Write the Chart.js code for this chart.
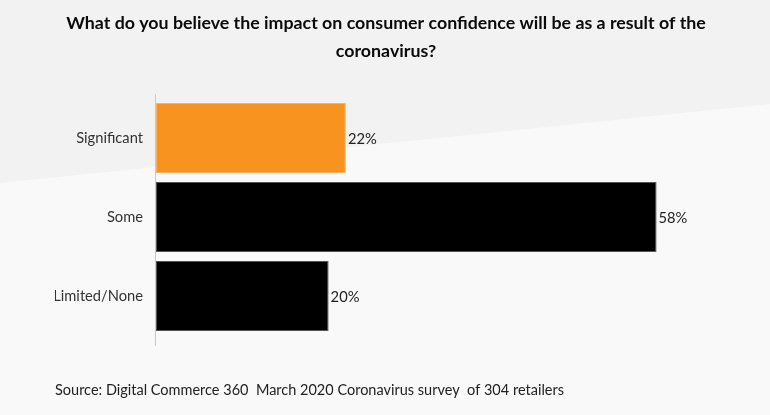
<!DOCTYPE html>
<html>
<head>
<meta charset="utf-8">
<script src="https://cdn.jsdelivr.net/npm/chart.js@4.4.0/dist/chart.umd.min.js"></script>
<style>
  html, body { margin: 0; padding: 0; background: #f9f9f9; }
  #wrap { width: 770px; height: 415px; position: relative; }
</style>
</head>
<body>
<div id="wrap"><canvas id="myChart" width="770" height="415"></canvas></div>
<script>
const categories = ["Significant", "Some", "Limited/None"];
const values = [22, 58, 20];
const barColors = ["#F7931E", "#000000", "#000000"];
const barBorders = ["#F9B266", "#555555", "#555555"];

const ctx = document.getElementById("myChart");

// background: light grey wedge at the top, near-white below
const backdrop = {
  id: "backdrop",
  beforeDraw: (chart) => {
    const c = chart.ctx;
    c.save();
    c.fillStyle = "#f9f9f9";
    c.fillRect(0, 0, chart.width, chart.height);
    c.fillStyle = "#f2f2f2";
    c.beginPath();
    c.moveTo(0, 0);
    c.lineTo(chart.width, 0);
    c.lineTo(chart.width, 104);
    c.lineTo(0, 183);
    c.closePath();
    c.fill();
    c.restore();
  },
};

// vertical axis line, a bit longer than the bars area
const axisLine = {
  id: "axisLine",
  beforeDatasetsDraw: (chart) => {
    const { ctx: c, chartArea } = chart;
    c.save();
    c.strokeStyle = "#c8c8c8";
    c.lineWidth = 1;
    c.beginPath();
    c.moveTo(chartArea.left - 0.5, chartArea.top - 4);
    c.lineTo(chartArea.left - 0.5, chartArea.bottom + 10);
    c.stroke();
    c.restore();
  },
};

// value labels at the end of each bar
const valueLabels = {
  id: "valueLabels",
  afterDatasetsDraw: (chart) => {
    const c = chart.ctx;
    c.save();
    c.font = "14.7px Lato";
    c.fillStyle = "#222";
    c.textBaseline = "middle";
    c.textAlign = "left";
    chart.getDatasetMeta(0).data.forEach((bar, i) => {
      c.fillText(`${values[i]}%`, bar.x + 2, bar.y + 1);
    });
    c.restore();
  },
};

const chart = new Chart(ctx, {
  type: "bar",
  data: {
    labels: categories,
    datasets: [
      {
        data: values,
        backgroundColor: barColors,
        borderColor: barBorders,
        borderWidth: 1,
        borderSkipped: false,
        categoryPercentage: 1,
        barPercentage: 0.886,
      },
    ],
  },
  options: {
    indexAxis: "y",
    responsive: false,
    animation: false,
    layout: {
      padding: { left: 55, right: 53, top: 10, bottom: 6 },
    },
    scales: {
      x: {
        display: false,
        min: 0,
        max: 65,
      },
      y: {
        grid: { display: false, drawTicks: false },
        border: { display: false },
        ticks: {
          color: "#333",
          padding: 13,
          font: { family: "Lato", size: 14.7 },
        },
        afterFit: (scale) => {
          scale.width = 101;
        },
      },
    },
    plugins: {
      legend: { display: false },
      tooltip: { enabled: false },
      title: {
        display: true,
        text: [
          "What do you believe the impact on consumer confidence will be as a result of the",
          "coronavirus?",
        ],
        color: "#0a0a0a",
        font: { family: "Lato", size: 17.8, weight: "bold", lineHeight: 1.53 },
        padding: { top: 0, bottom: 34 },
      },
      subtitle: {
        display: true,
        position: "bottom",
        align: "start",
        text: "Source: Digital Commerce 360  March 2020 Coronavirus survey  of 304 retailers",
        color: "#222",
        font: { family: "Lato", size: 14.5, lineHeight: 1.2 },
        padding: { top: 46, bottom: 10 },
      },
    },
  },
  plugins: [backdrop, axisLine, valueLabels],
});
</script>
</body>
</html>
